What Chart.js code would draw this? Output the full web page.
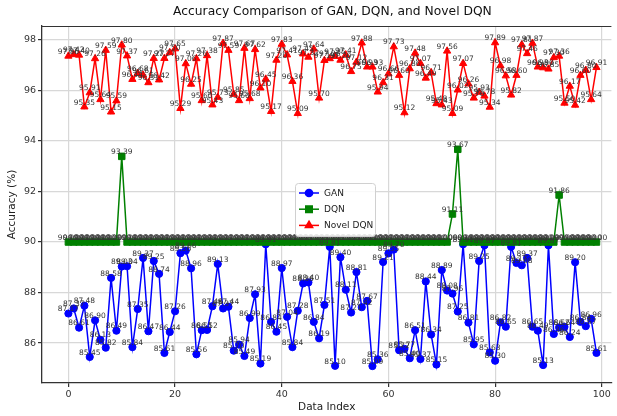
<!DOCTYPE html>
<html>
<head>
<meta charset="utf-8">
<title>Accuracy Comparison</title>
<script src="https://cdn.jsdelivr.net/npm/chart.js@4.4.1/dist/chart.umd.min.js"></script>
<style>
  html, body { margin: 0; padding: 0; background: #fff; }
</style>
</head>
<body>
<canvas id="accChart" width="617" height="416"></canvas>
<script>
// ---------- DATA ----------
const dataIndex = [
  0, 1, 2, 3, 4, 5, 6, 7, 8, 9, 10, 11, 12, 13, 14, 15, 16, 17, 18, 19,
  20, 21, 22, 23, 24, 25, 26, 27, 28, 29, 30, 31, 32, 33, 34, 35, 36, 37, 38, 39,
  40, 41, 42, 43, 44, 45, 46, 47, 48, 49, 50, 51, 52, 53, 54, 55, 56, 57, 58, 59,
  60, 61, 62, 63, 64, 65, 66, 67, 68, 69, 70, 71, 72, 73, 74, 75, 76, 77, 78, 79,
  80, 81, 82, 83, 84, 85, 86, 87, 88, 89, 90, 91, 92, 93, 94, 95, 96, 97, 98, 99
];

const ganAcc = [
  87.17, 87.37, 86.61, 87.48, 85.45, 86.90, 86.13, 85.82, 88.58, 86.49,
  89.03, 89.04, 85.84, 87.35, 89.37, 86.47, 89.25, 88.74, 85.61, 86.44,
  87.26, 89.56, 89.66, 88.96, 85.56, 86.51, 86.52, 87.46, 89.13, 87.37,
  87.44, 85.70, 85.94, 85.49, 86.99, 87.93, 85.19, 89.91, 86.84, 86.45,
  88.97, 87.04, 85.84, 87.28, 88.36, 88.40, 86.84, 86.19, 87.51, 89.81,
  85.10, 89.40, 88.11, 87.21, 88.81, 87.42, 87.67, 85.09, 85.36, 89.21,
  89.55, 89.70, 85.72, 85.77, 85.40, 86.51, 85.37, 88.44, 86.34, 85.15,
  88.89, 88.08, 87.96, 87.25, 89.91, 86.81, 85.95, 89.25, 89.87, 85.63,
  85.30, 86.82, 86.65, 89.81, 89.17, 89.08, 89.37, 86.65, 86.49, 85.13,
  89.87, 86.36, 86.62, 86.64, 86.24, 89.20, 86.84, 86.67, 86.96, 85.61
];

const dqnAcc = [
  90.00, 90.00, 90.00, 90.00, 90.00, 90.00, 90.00, 90.00, 90.00, 90.00,
  93.39, 90.00, 90.00, 90.00, 90.00, 90.00, 90.00, 90.00, 90.00, 90.00,
  90.00, 90.00, 90.00, 90.00, 90.00, 90.00, 90.00, 90.00, 90.00, 90.00,
  90.00, 90.00, 90.00, 90.00, 90.00, 90.00, 90.00, 90.00, 90.00, 90.00,
  90.00, 90.00, 90.00, 90.00, 90.00, 90.00, 90.00, 90.00, 90.00, 90.00,
  90.00, 90.00, 90.00, 90.00, 90.00, 90.00, 90.00, 90.00, 90.00, 90.00,
  90.00, 90.00, 90.00, 90.00, 90.00, 90.00, 90.00, 90.00, 90.00, 90.00,
  90.00, 90.00, 91.11, 93.67, 90.00, 90.00, 90.00, 90.00, 90.00, 90.00,
  90.00, 90.00, 90.00, 90.00, 90.00, 90.00, 90.00, 90.00, 90.00, 90.00,
  90.00, 90.00, 91.86, 90.00, 90.00, 90.00, 90.00, 90.00, 90.00, 90.00
];

const novelAcc = [
  97.36, 97.42, 97.40, 95.35, 95.91, 97.26, 95.64, 97.59, 95.15, 95.59,
  97.80, 97.37, 96.44, 96.68, 96.61, 96.31, 97.27, 96.42, 97.27, 97.50,
  97.65, 95.29, 97.06, 96.25, 97.26, 95.60, 97.38, 95.43, 95.73, 97.87,
  97.59, 95.85, 95.60, 97.67, 95.68, 97.62, 96.10, 96.45, 95.17, 97.20,
  97.83, 97.41, 96.36, 95.09, 97.45, 97.32, 97.64, 95.70, 97.19, 97.26,
  97.35, 97.20, 97.41, 96.75, 97.12, 97.88, 96.93, 96.93, 95.94, 96.31,
  96.66, 97.73, 96.60, 95.12, 96.86, 97.48, 97.07, 96.49, 96.71, 95.48,
  95.43, 97.56, 95.09, 96.02, 97.07, 96.26, 95.70, 95.93, 95.78, 95.34,
  97.89, 96.98, 96.58, 95.82, 96.60, 97.81, 97.46, 97.87, 96.93, 96.90,
  96.85, 97.30, 97.36, 95.50, 96.17, 95.42, 96.60, 96.80, 95.64, 96.91
];

const xTicks = [0, 20, 40, 60, 80, 100];
const yTicks = [86, 88, 90, 92, 94, 96, 98];

const FONT = '"DejaVu Sans", "Liberation Sans", sans-serif';

function toPoints(values) {
  return values.map((v, i) => ({ x: dataIndex[i], y: v }));
}

// ---------- PLUGINS ----------
// value text above every marker (drawn after all lines)
const valueLabels = {
  id: "valueLabels",
  afterDatasetsDraw(chart) {
    const ctx = chart.ctx;
    ctx.save();
    ctx.font = "7.5px " + FONT;
    ctx.fillStyle = "#333";
    ctx.textAlign = "center";
    ctx.textBaseline = "bottom";
    chart.data.datasets.forEach((ds, di) => {
      chart.getDatasetMeta(di).data.forEach((pt, i) => {
        ctx.fillText(ds.data[i].y.toFixed(2), pt.x, pt.y - 0.5);
      });
    });
    ctx.restore();
  }
};

// title, top spine and the in-plot legend box
const frameAndLegend = {
  id: "frameAndLegend",
  afterDraw(chart) {
    const ctx = chart.ctx;
    const area = chart.chartArea;
    const xs = chart.scales.x;
    ctx.save();

    // top spine
    ctx.strokeStyle = "#333";
    ctx.lineWidth = 1.2;
    ctx.beginPath();
    ctx.moveTo(area.left, area.top + 0.5);
    ctx.lineTo(area.right, area.top + 0.5);
    ctx.stroke();

    // title, centred on the full axes (which runs past the right crop)
    ctx.fillStyle = "#111";
    ctx.font = "12.3px " + FONT;
    ctx.textAlign = "center";
    ctx.textBaseline = "middle";
    ctx.fillText("Accuracy Comparison of GAN, DQN, and Novel DQN", xs.getPixelForValue(49.5), 12);

    // legend
    const bx = 295, by = 183, bw = 80, bh = 53;
    ctx.fillStyle = "rgba(255,255,255,0.85)";
    ctx.strokeStyle = "#d0d0d0";
    ctx.lineWidth = 1;
    ctx.beginPath();
    ctx.roundRect(bx + 0.5, by + 0.5, bw, bh, 3);
    ctx.fill();
    ctx.stroke();

    ctx.font = "9px " + FONT;
    ctx.textAlign = "left";
    ctx.textBaseline = "middle";
    chart.data.datasets.forEach((ds, i) => {
      const ry = by + 10 + i * 16.2;
      ctx.strokeStyle = ds.borderColor;
      ctx.lineWidth = 1.5;
      ctx.beginPath();
      ctx.moveTo(bx + 4, ry);
      ctx.lineTo(bx + 24, ry);
      ctx.stroke();
      ctx.fillStyle = ds.backgroundColor;
      Chart.helpers.drawPoint(ctx, {
        pointStyle: ds.pointStyle, radius: ds.pointRadius, borderWidth: 1, rotation: 0
      }, bx + 14, ry);
      ctx.fillStyle = "#222";
      ctx.fillText(ds.label, bx + 29, ry + 0.5);
    });
    ctx.restore();
  }
};

// ---------- CHART ----------
new Chart(document.getElementById("accChart").getContext("2d"), {
  type: "line",
  data: {
    datasets: [
      { label: "GAN", data: toPoints(ganAcc), borderColor: "#0000ff", backgroundColor: "#0000ff",
        pointStyle: "circle", pointRadius: 3.6, pointBorderWidth: 1, borderWidth: 1.5, order: 3 },
      { label: "DQN", data: toPoints(dqnAcc), borderColor: "#008000", backgroundColor: "#008000",
        pointStyle: "rect", pointRadius: 4.6, pointBorderWidth: 1, borderWidth: 1.5, order: 2 },
      { label: "Novel DQN", data: toPoints(novelAcc), borderColor: "#ff0000", backgroundColor: "#ff0000",
        pointStyle: "triangle", pointRadius: 4.2, pointBorderWidth: 1, borderWidth: 1.5, order: 1 }
    ]
  },
  options: {
    responsive: false,
    animation: false,
    devicePixelRatio: 1,
    layout: { padding: { top: 26, left: 0, right: 0, bottom: 0 } },
    elements: { line: { tension: 0 } },
    plugins: { legend: { display: false }, title: { display: false }, tooltip: { enabled: false } },
    scales: {
      x: {
        type: "linear",
        min: -4.95,
        max: 101.8,
        afterBuildTicks: scale => { scale.ticks = xTicks.map(v => ({ value: v })); },
        afterFit: scale => { scale.height = 33; },
        grid: { color: "#d8d8d8", lineWidth: 1.2, tickLength: 4, tickColor: "#333" },
        border: { color: "#333", width: 1.3 },
        ticks: { color: "#333", font: { family: FONT, size: 9.5 }, padding: 2, callback: v => String(v) },
        title: { display: true, text: "Data Index", color: "#222",
                 font: { family: FONT, size: 10.5 }, padding: { top: 0, bottom: 2 } }
      },
      y: {
        min: 84.42,
        max: 98.55,
        afterBuildTicks: scale => { scale.ticks = yTicks.map(v => ({ value: v })); },
        afterFit: scale => { scale.width = 42; },
        grid: { color: "#d8d8d8", lineWidth: 1.2, tickLength: 4, tickColor: "#333" },
        border: { color: "#333", width: 1.3 },
        ticks: { color: "#333", font: { family: FONT, size: 9.5 }, padding: 2, callback: v => String(v) },
        title: { display: true, text: "Accuracy (%)", color: "#222",
                 font: { family: FONT, size: 10.5 }, padding: { top: 6, bottom: 0 } }
      }
    }
  },
  plugins: [valueLabels, frameAndLegend]
});
</script>
</body>
</html>
